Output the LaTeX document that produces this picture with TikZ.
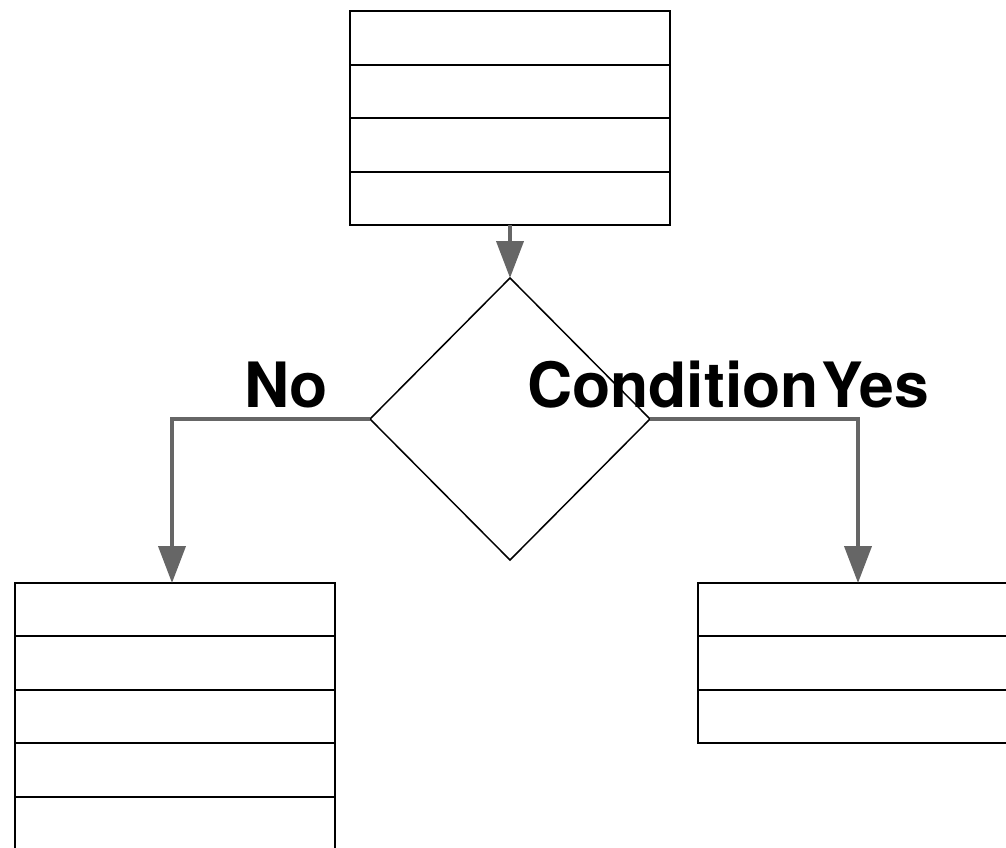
\documentclass[tikz,border=0pt]{standalone}
\usepackage{fontspec}
\newfontfamily\labfont{TeX Gyre Heros}
\usetikzlibrary{shapes.geometric,arrows.meta,calc}
\definecolor{arrgray}{HTML}{666666}
\begin{document}
\begin{tikzpicture}[x=1pt,y=-1pt,
  rowbox/.style={draw=black,line width=2pt,fill=white,inner sep=0pt,outer sep=0pt,minimum width=320pt},
  rowline/.style={draw=black,line width=2pt},
  decision/.style={diamond,draw=black,line width=1.5pt,inner sep=0pt,outer sep=0pt,minimum width=280pt,minimum height=282pt},
  flow/.style={draw=arrgray,line width=4pt,-{Triangle[length=37pt,width=27pt]}},
  lab/.style={font=\labfont\bfseries\fontsize{62.5}{74}\selectfont,inner sep=0pt}]
\useasboundingbox (0,0) rectangle (1006,847);
% top box, 4 rows
\node[rowbox,minimum height=214pt] (top) at (510,118) {};
\foreach \i in {1,2,3} \draw[rowline] ($(top.north west)+(0,53.5*\i)$) -- ($(top.north east)+(0,53.5*\i)$);
% decision
\node[decision] (dec) at (510,419) {};
% left box, 5 rows
\node[rowbox,minimum height=267pt] (left) at (175,716.5) {};
\foreach \i in {1,2,3,4} \draw[rowline] ($(left.north west)+(0,53.4*\i)$) -- ($(left.north east)+(0,53.4*\i)$);
% right box, 3 rows
\node[rowbox,minimum height=160pt] (right) at (858,663) {};
\foreach \i in {1,2} \draw[rowline] ($(right.north west)+(0,53.3*\i)$) -- ($(right.north east)+(0,53.3*\i)$);
% connectors
\draw[flow] (top.south) -- (dec.north);
\draw[flow] (dec.west) -| ($(left.north)+(-3,0)$);
\draw[flow] (dec.east) -| (right.north);
% labels
\node[lab,anchor=base west] (no) at (244,407) {No};
\node[lab,anchor=base west] (cond) at (527,407) {Condition};
\node[lab,anchor=base east] (yes) at (929,407) {Yes};
\end{tikzpicture}
\end{document}
